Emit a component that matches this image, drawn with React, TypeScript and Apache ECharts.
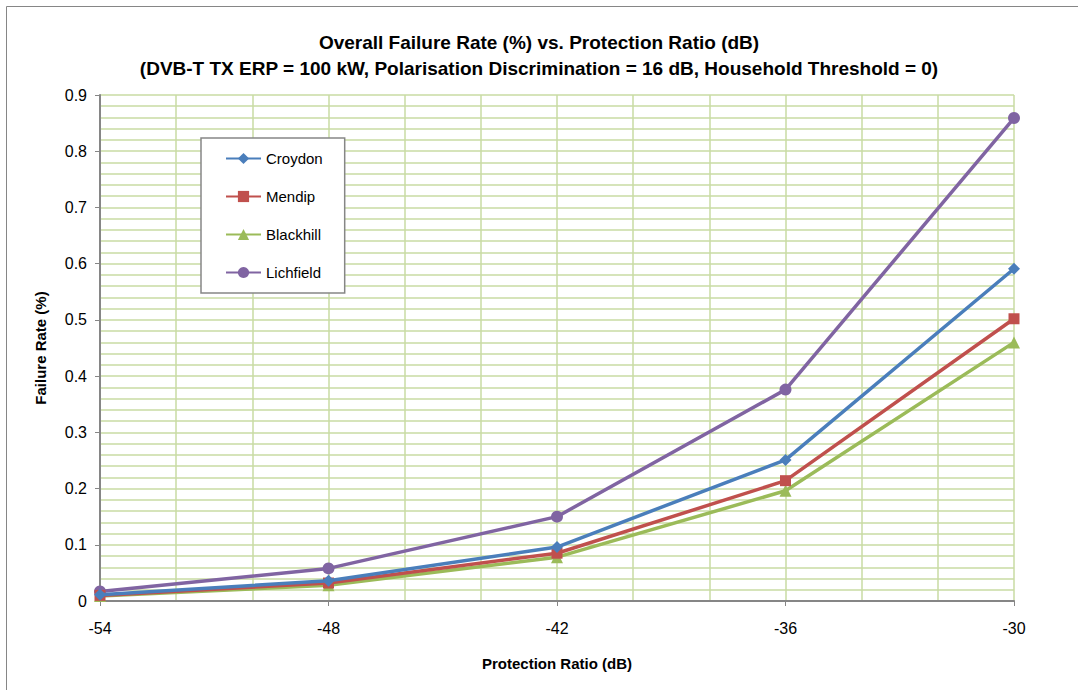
import React, { useEffect, useRef } from "react";
import * as echarts from "echarts";

// Protection ratio (dB) on the x axis
const protectionRatios = [-54, -48, -42, -36, -30];

// Overall failure rate (%) per transmitter site
const croydon = [0.011, 0.036, 0.096, 0.251, 0.591];
const mendip = [0.010, 0.032, 0.085, 0.214, 0.502];
const blackhill = [0.009, 0.028, 0.078, 0.196, 0.460];
const lichfield = [0.017, 0.058, 0.150, 0.376, 0.859];

const seriesNames = ["Croydon", "Mendip", "Blackhill", "Lichfield"];
const seriesColors = ["#4A7EBB", "#C0504D", "#9BBB59", "#8064A2"];
const seriesSymbols = ["diamond", "rect", "triangle", "circle"];
const seriesSymbolSizes = [12, 11, 12, 12];

const FONT = "'Liberation Sans', Arial, sans-serif";
const GRID_GREEN = "#C8DBA3";
const AXIS_GRAY = "#868686";

export default function App() {
  const ref = useRef<HTMLDivElement>(null);

  useEffect(() => {
    document.body.style.margin = "0";
    if (!ref.current) return;
    const chart = echarts.init(ref.current, null, { renderer: "svg" });
    const values = [croydon, mendip, blackhill, lichfield];

    chart.setOption({
      animation: false,
      backgroundColor: "#ffffff",
      textStyle: { fontFamily: FONT },
      title: {
        text:
          "Overall Failure Rate (%) vs. Protection Ratio (dB)\n(DVB-T TX ERP = 100 kW, Polarisation Discrimination = 16 dB, Household Threshold = 0)",
        left: "center",
        top: 24,
        textStyle: {
          fontFamily: FONT,
          fontSize: 19,
          fontWeight: "bold",
          color: "#000",
          lineHeight: 26,
        },
      },
      graphic: [
        {
          type: "rect",
          shape: { x: 6.5, y: 6.5, width: 1100, height: 720 },
          style: { fill: "none", stroke: AXIS_GRAY, lineWidth: 1 },
          silent: true,
          z: -10,
        },
      ],
      legend: {
        orient: "vertical",
        left: 201,
        top: 138,
        padding: [13, 22, 13, 24],
        itemGap: 23,
        itemWidth: 35,
        itemHeight: 14,
        borderColor: AXIS_GRAY,
        borderWidth: 1.5,
        backgroundColor: "#ffffff",
        textStyle: { fontFamily: FONT, fontSize: 15, color: "#000" },
        data: seriesNames,
      },
      grid: { left: 100, right: 64, top: 95, bottom: 89 },
      xAxis: {
        type: "value",
        min: -54,
        max: -30,
        interval: 6,
        name: "Protection Ratio (dB)",
        nameLocation: "middle",
        nameGap: 55,
        nameTextStyle: { fontFamily: FONT, fontSize: 15, fontWeight: "bold", color: "#000" },
        axisLine: { show: true, onZero: false, lineStyle: { color: AXIS_GRAY, width: 2 } },
        axisTick: { show: true, length: 5, lineStyle: { color: AXIS_GRAY, width: 1 } },
        axisLabel: { margin: 19, fontFamily: FONT, fontSize: 16, color: "#000" },
        splitLine: { show: true, lineStyle: { color: GRID_GREEN, width: 1.5 } },
        minorTick: { show: false, splitNumber: 3 },
        minorSplitLine: { show: true, lineStyle: { color: GRID_GREEN, width: 1.5 } },
      },
      yAxis: {
        type: "value",
        min: 0,
        max: 0.9,
        interval: 0.1,
        name: "Failure Rate (%)",
        nameLocation: "middle",
        nameGap: 52,
        nameTextStyle: { fontFamily: FONT, fontSize: 15, fontWeight: "bold", color: "#000" },
        axisLine: { show: true, lineStyle: { color: AXIS_GRAY, width: 2 } },
        axisTick: { show: true, length: 5, lineStyle: { color: AXIS_GRAY, width: 1 } },
        axisLabel: { margin: 13, fontFamily: FONT, fontSize: 16, color: "#000" },
        splitLine: { show: true, lineStyle: { color: GRID_GREEN, width: 1.5 } },
        minorTick: { show: false, splitNumber: 5 },
        minorSplitLine: { show: true, lineStyle: { color: GRID_GREEN, width: 1.5 } },
      },
      series: seriesNames.map((name, i) => ({
        name,
        type: "line",
        data: protectionRatios.map((x, j) => [x, values[i][j]]),
        symbol: seriesSymbols[i],
        symbolSize: seriesSymbolSizes[i],
        showAllSymbol: true,
        clip: false,
        itemStyle: { color: seriesColors[i] },
        lineStyle: { color: seriesColors[i], width: 3.5 },
        z: 2 + (3 - i),
      })),
    });

    return () => chart.dispose();
  }, []);

  return <div ref={ref} style={{ width: 1078, height: 690 }} />;
}
